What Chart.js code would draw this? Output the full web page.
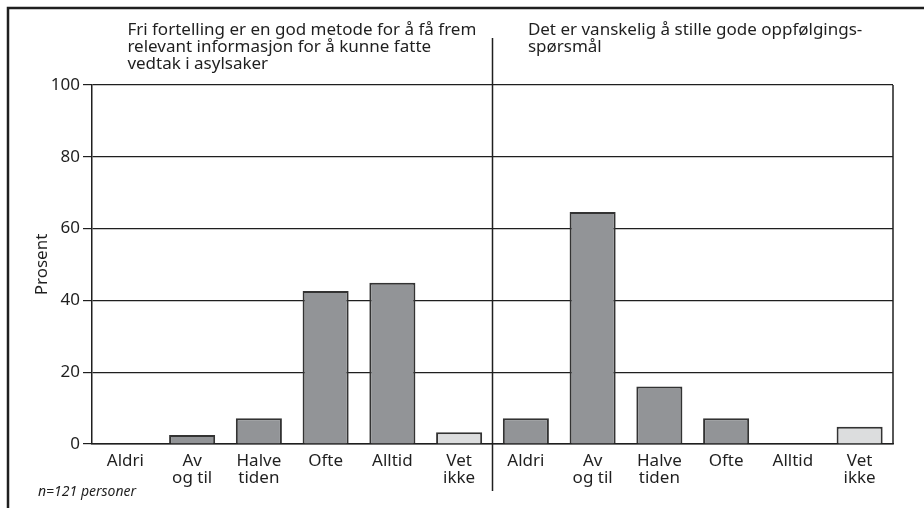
<!DOCTYPE html>
<html>
<head>
<meta charset="utf-8">
<script src="https://cdn.jsdelivr.net/npm/chart.js@4.4.0/dist/chart.umd.min.js"></script>
<style>
  html, body { margin: 0; padding: 0; background: #fff; }
  #wrap { width: 924px; height: 508px; position: relative; }
</style>
</head>
<body>
<div id="wrap"><canvas id="chart" width="924" height="508"></canvas></div>
<script>
// answer categories (same six in each panel)
const answers = [['Aldri'], ['Av', 'og til'], ['Halve', 'tiden'], ['Ofte'], ['Alltid'], ['Vet', 'ikke']];

// percent per answer
const fortellingValues = [0, 2.5, 7.2, 42.6, 44.9, 3.3];
const oppfolgingValues = [7.2, 64.6, 16, 7.2, 0, 4.8];

const panelTitles = [
    ['Fri fortelling er en god metode for å få frem', 'relevant informasjon for å kunne fatte', 'vedtak i asylsaker'],
    ['Det er vanskelig å stille gode oppfølgings-', 'spørsmål']
];
const yTicks = [0, 20, 40, 60, 80, 100];
const note = 'n=121 personer';

const FONT = '"Noto Sans", "Open Sans", sans-serif';
const INK = '#1f1f1f';
const BAR = '#929497';
const BAR_LIGHT = '#dcddde';

// one category axis with both panels side by side
const labels = answers.concat(answers);
const values = fortellingValues.concat(oppfolgingValues);
const colors = labels.map(l => l[0] === 'Vet' ? BAR_LIGHT : BAR);

// frame, divider, right border, panel titles and the n note
const decorations = {
    id: 'decorations',
    afterDraw(chart) {
        const { ctx, chartArea, scales } = chart;
        const x = scales.x;
        ctx.save();

        // right border of the plot
        ctx.strokeStyle = INK;
        ctx.lineWidth = 1.5;
        ctx.beginPath();
        ctx.moveTo(chartArea.right, chartArea.top);
        ctx.lineTo(chartArea.right, chartArea.bottom);
        ctx.stroke();

        // divider between the two panels
        const midX = (x.getPixelForValue(5) + x.getPixelForValue(6)) / 2;
        ctx.beginPath();
        ctx.moveTo(midX, 38);
        ctx.lineTo(midX, 491);
        ctx.stroke();

        // outer frame
        ctx.lineWidth = 2.5;
        ctx.strokeRect(8, 8, 940, 540);

        // panel headings
        ctx.fillStyle = INK;
        ctx.font = '17px ' + FONT;
        ctx.textBaseline = 'alphabetic';
        ctx.textAlign = 'left';
        const starts = [x.getPixelForValue(0) + 2, x.getPixelForValue(6) + 2];
        panelTitles.forEach((lines, i) => {
            lines.forEach((line, j) => {
                ctx.fillText(line, starts[i], 35 + j * 17);
            });
        });

        // sample size note
        ctx.font = 'italic 14px ' + FONT;
        ctx.fillText(note, 38, 496);
        ctx.restore();
    }
};

new Chart(document.getElementById('chart'), {
    type: 'bar',
    data: {
        labels: labels,
        datasets: [{
            data: values,
            backgroundColor: colors,
            borderColor: '#333333',
            borderWidth: 2,
            barPercentage: 0.69,
            categoryPercentage: 1
        }]
    },
    options: {
        responsive: false,
        animation: false,
        layout: { padding: { top: 85, right: 31, left: 0, bottom: 0 } },
        plugins: {
            legend: { display: false },
            tooltip: { enabled: false }
        },
        scales: {
            x: {
                grid: { display: false },
                border: { display: true, color: INK, width: 1.5 },
                ticks: {
                    color: INK,
                    font: { family: FONT, size: 17, lineHeight: 1.0 },
                    padding: 1,
                    maxRotation: 0,
                    autoSkip: false
                },
                afterFit(scale) { scale.height = 64; }
            },
            y: {
                min: 0,
                max: 100,
                afterBuildTicks(scale) {
                    scale.ticks = yTicks.map(v => ({ value: v }));
                },
                grid: {
                    color: INK,
                    lineWidth: 1.2,
                    drawTicks: true,
                    tickLength: 9,
                    tickColor: INK
                },
                border: { display: true, color: INK, width: 1.5 },
                ticks: {
                    color: INK,
                    font: { family: FONT, size: 17 },
                    padding: 3
                },
                title: {
                    display: true,
                    text: 'Prosent',
                    color: INK,
                    font: { family: FONT, size: 17 },
                    padding: { top: 32, bottom: 0 }
                },
                afterFit(scale) { scale.width = 92; }
            }
        }
    },
    plugins: [decorations]
});
</script>
</body>
</html>
